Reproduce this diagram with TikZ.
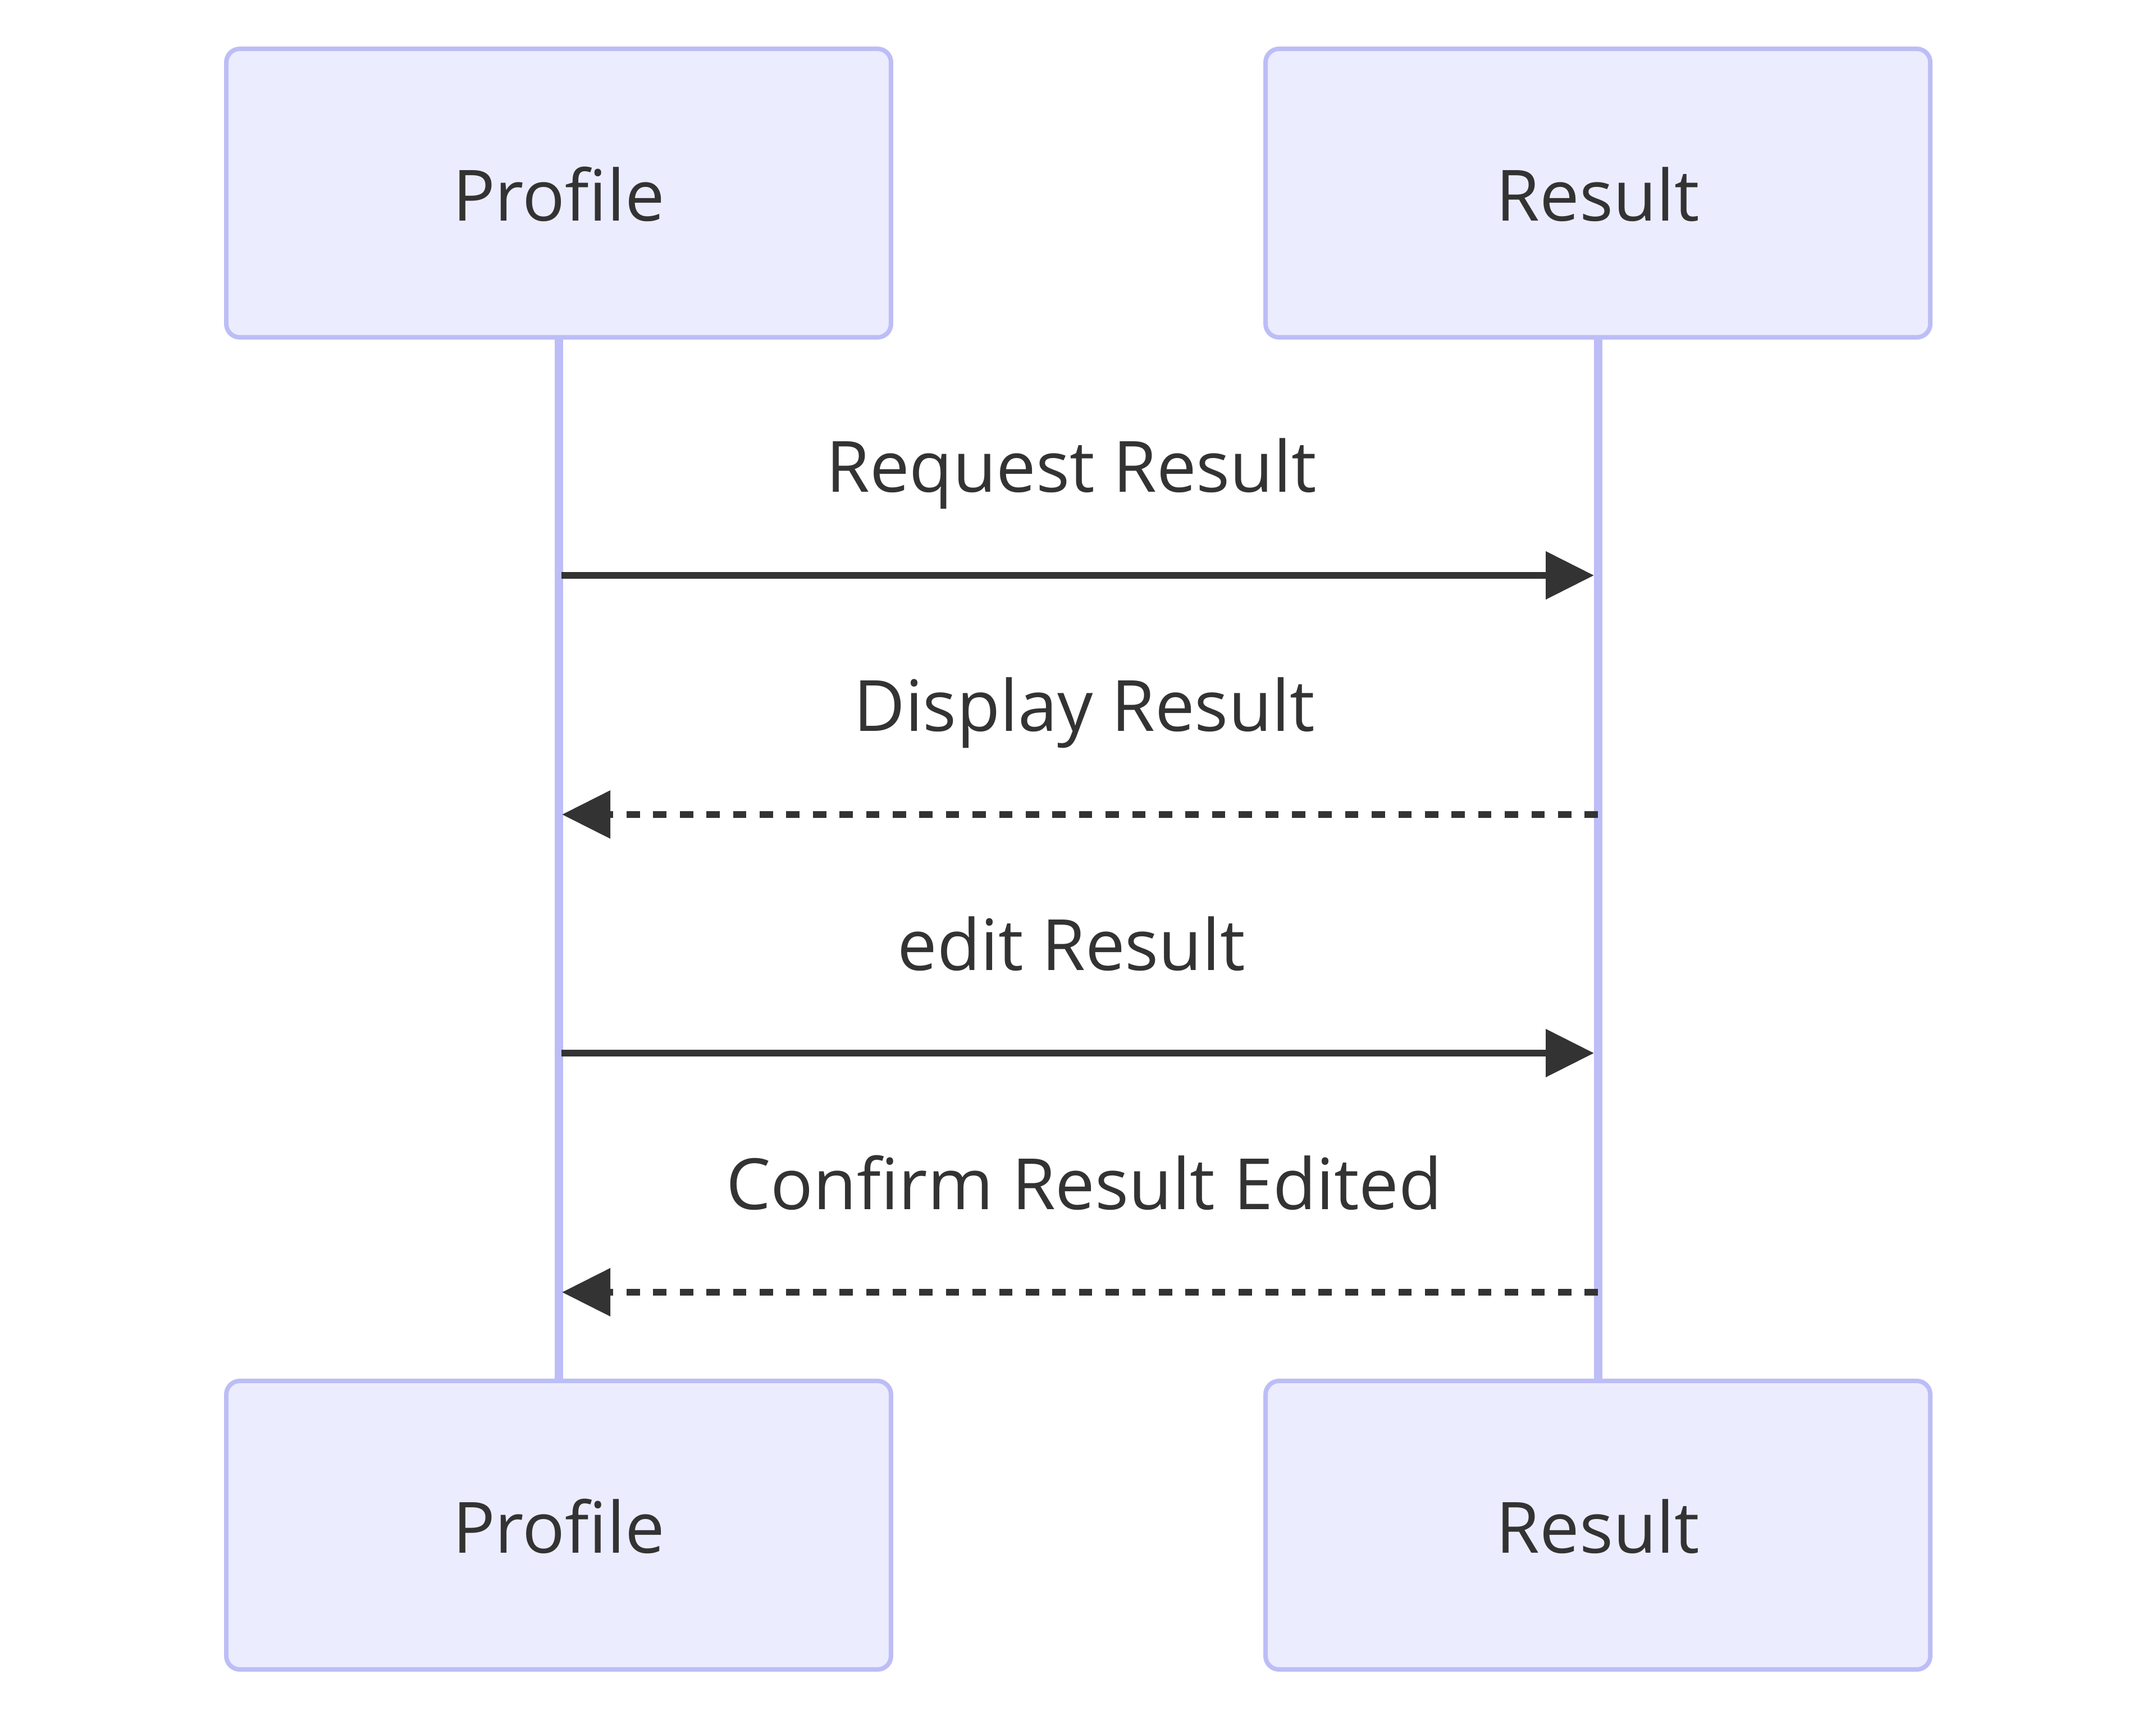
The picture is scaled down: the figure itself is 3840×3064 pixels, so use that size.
\documentclass[tikz,border=0pt]{standalone}
\usepackage{fontspec}
\setmainfont{Open Sans}
\usetikzlibrary{arrows.meta}
\definecolor{actfill}{HTML}{ECECFF}
\definecolor{actline}{HTML}{BDBDF7}
\definecolor{ink}{HTML}{333333}
\begin{document}
\begin{tikzpicture}[x=0.1pt,y=-0.1pt,
  actor/.style={draw=actline, fill=actfill, line width=0.8pt, rounded corners=2.4pt,
    minimum width=118.4pt, minimum height=51.4pt, inner sep=0pt,
    text height=9.9pt, text depth=0pt, font=\fontsize{12.6}{15}\selectfont, text=ink},
  lifeline/.style={draw=actline, line width=1.5pt},
  msg/.style={draw=ink, line width=1.2pt, -{Triangle[length=8.6pt,width=8.3pt]}},
  reply/.style={msg, dash pattern=on 2.37pt off 2.37pt},
  msglabel/.style={anchor=base, inner sep=0pt, font=\fontsize{12.6}{15}\selectfont, text=ink}]
\useasboundingbox (0,0) rectangle (3840,3064);
% actors
\node[actor] (pt) at (995,344) {Profile};
\node[actor] (rt) at (2846,344) {Result};
\node[actor] (pb) at (995,2717) {Profile};
\node[actor] (rb) at (2846,2717) {Result};
% lifelines
\draw[lifeline] (pt.south) -- (pb.north);
\draw[lifeline] (rt.south) -- (rb.north);
% message end points
\coordinate (m1a) at (1000,1025); \coordinate (m1b) at (2839,1025);
\coordinate (m2a) at (2846,1451); \coordinate (m2b) at (1001,1451);
\coordinate (m3a) at (1000,1876); \coordinate (m3b) at (2839,1876);
\coordinate (m4a) at (2846,2302); \coordinate (m4b) at (1001,2302);
% messages
\draw[msg] (m1a) -- (m1b);
\draw[reply] (m2a) -- (m2b);
\draw[msg] (m3a) -- (m3b);
\draw[reply] (m4a) -- (m4b);
% labels
\node[msglabel] (l1) at (1908,877) {Request Result};
\node[msglabel] (l2) at (1931,1303) {Display Result};
\node[msglabel] (l3) at (1908,1729) {edit Result};
\node[msglabel] (l4) at (1931,2155) {Confirm Result Edited};
\end{tikzpicture}
\end{document}
